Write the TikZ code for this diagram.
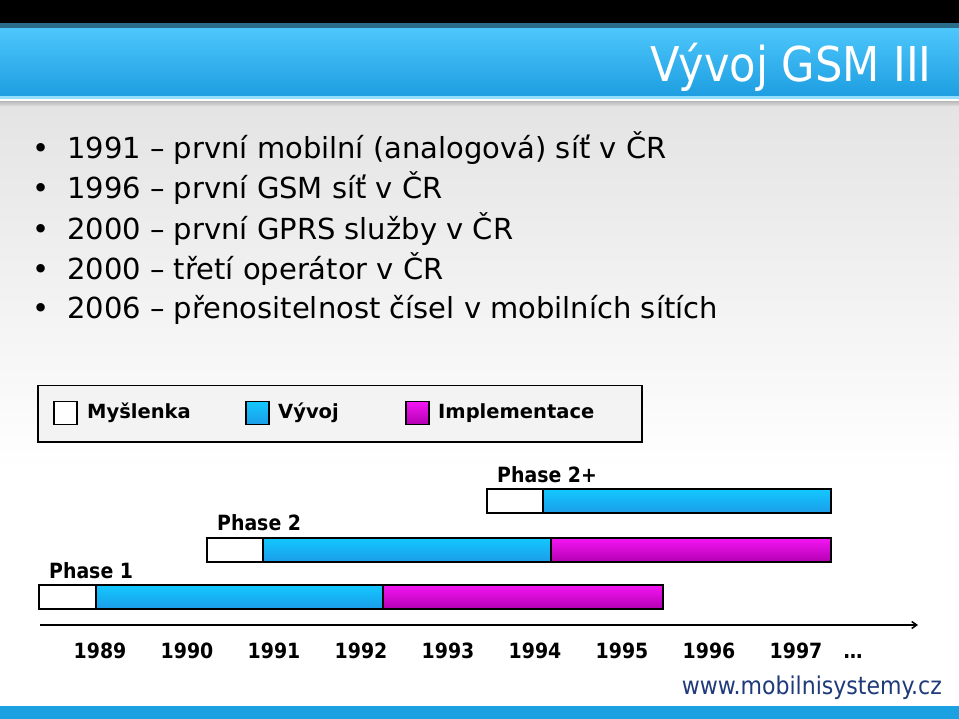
\documentclass[tikz,border=0pt]{standalone}
\usepackage{fontspec}
\setmainfont{DejaVu Sans}
\newfontfamily\condfont{DejaVu Sans Condensed}
\usetikzlibrary{arrows.meta}
\definecolor{bannertop}{RGB}{76,198,251}
\definecolor{bannerbot}{RGB}{30,158,225}
\definecolor{bodytop}{RGB}{228,228,228}
\definecolor{devtop}{RGB}{18,200,255}
\definecolor{devbot}{RGB}{28,156,232}
\definecolor{impltop}{RGB}{244,22,244}
\definecolor{implbot}{RGB}{180,0,178}
\definecolor{legendfill}{RGB}{243,243,243}
\definecolor{urlcolor}{RGB}{31,58,122}
\definecolor{bandcolor}{RGB}{27,161,226}

\tikzset{
  item/.style={anchor=west, inner sep=0pt, font=\fontsize{29}{35}\selectfont},
  barbox/.style={draw=black, line width=1.5pt, inner sep=0pt, outer sep=0pt, minimum height=24, anchor=north west},
  idea/.style={barbox, fill=white},
  dev/.style={barbox, top color=devtop, bottom color=devbot},
  impl/.style={barbox, top color=impltop, bottom color=implbot},
  keybox/.style={draw=black, line width=1.5pt, inner sep=0pt, minimum size=23},
  keylabel/.style={anchor=west, inner sep=0pt, font=\bfseries\fontsize{19.5}{23}\selectfont},
  phaselabel/.style={anchor=base west, inner sep=0pt, font=\condfont\bfseries\fontsize{21}{25}\selectfont},
  yearlabel/.style={anchor=base, inner sep=0pt, font=\condfont\bfseries\fontsize{21}{25}\selectfont}
}

\begin{document}
\begin{tikzpicture}[x=1pt,y=-1pt]
\useasboundingbox (0,0) rectangle (959,719);
% background
\fill[black] (0,0) rectangle (959,23);
\fill[bannertop!55!black] (0,23) rectangle (959,29);
\shade[top color=bannertop, bottom color=bannerbot] (0,29) rectangle (959,96);
\fill[bannertop!60!white] (0,96) rectangle (959,99);
\fill[white] (0,99) rectangle (959,102);
\shade[top color=black!25, bottom color=bodytop] (0,102) rectangle (959,107);
\shade[top color=bodytop, bottom color=white] (0,107) rectangle (959,470);
\fill[white] (0,470) rectangle (959,706);
\fill[bandcolor] (0,706) rectangle (959,719);
\node[anchor=east, inner sep=0pt, text=white, font=\condfont\fontsize{48}{56}\selectfont] (title) at (932,67) {Vývoj GSM III};

% bullet list
\node[item] (i1) at (32,148) {\makebox[35pt][l]{•}1991 – první mobilní (analogová) síť v ČR};
\node[item] (i2) at (32,188) {\makebox[35pt][l]{•}1996 – první GSM síť v ČR};
\node[item] (i3) at (32,229) {\makebox[35pt][l]{•}2000 – první GPRS služby v ČR};
\node[item] (i4) at (32,269) {\makebox[35pt][l]{•}2000 – třetí operátor v ČR};
\node[item] (i5) at (32,310) {\makebox[35pt][l]{•}2006 – přenositelnost čísel v mobilních sítích};

% legend
\node[draw=black, line width=1.5pt, fill=legendfill, inner sep=0pt, minimum width=604, minimum height=56, anchor=north west] (legend) at (37,385) {};
\node[keybox, fill=white] (kidea) at (65.5,413) {};
\node[keylabel] (lidea) at (87,413) {Myšlenka};
\node[keybox, top color=devtop, bottom color=devbot] (kdev) at (257.5,413) {};
\node[keylabel] (ldev) at (278,413) {Vývoj};
\node[keybox, top color=impltop, bottom color=implbot] (kimpl) at (417.5,413) {};
\node[keylabel] (limpl) at (438,413) {Implementace};

% phase 2+
\node[phaselabel] (l3) at (497,482) {Phase 2+};
\node[idea, minimum width=56] (p3a) at (487,489) {};
\node[dev, minimum width=288] (p3b) at (p3a.north east) {};
% phase 2
\node[phaselabel] (l2) at (217,530) {Phase 2};
\node[idea, minimum width=56] (p2a) at (207,538) {};
\node[dev, minimum width=288] (p2b) at (p2a.north east) {};
\node[impl, minimum width=280] (p2c) at (p2b.north east) {};
% phase 1
\node[phaselabel] (l1) at (49,578) {Phase 1};
\node[idea, minimum width=57] (p1a) at (39,585) {};
\node[dev, minimum width=287] (p1b) at (p1a.north east) {};
\node[impl, minimum width=280] (p1c) at (p1b.north east) {};

% time axis
\coordinate (axs) at (40,625);
\coordinate (axe) at (918,625);
\draw[line width=1.5pt, -{Straight Barb[length=5pt,width=7pt]}] (axs) -- (axe);
\foreach \yr [count=\i] in {1989,1990,1991,1992,1993,1994,1995,1996,1997}
  \node[yearlabel] (y\yr) at (100+87*\i-87,658) {\yr};
\node[yearlabel] (ydots) at (853,658) {…};

\node[anchor=east, inner sep=0pt, text=urlcolor, font=\condfont\fontsize{24.5}{29}\selectfont] (url) at (942,688) {www.mobilnisystemy.cz};
\end{tikzpicture}
\end{document}
